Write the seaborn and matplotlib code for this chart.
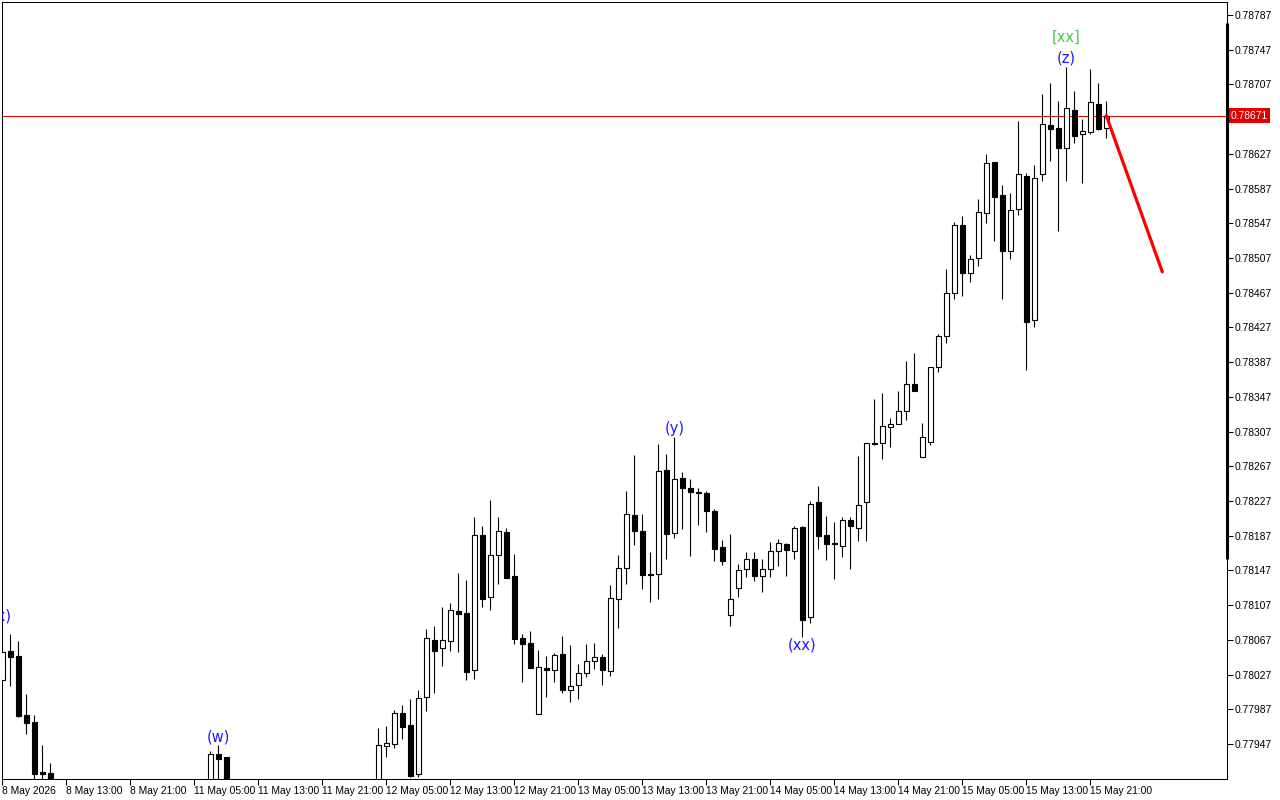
import numpy as np
import matplotlib
matplotlib.use("Agg")
import matplotlib.pyplot as plt
import matplotlib.transforms as mtransforms
import seaborn as sns

# ---------------- data (H1 candles, index 0 = 8 May 05:00) ----------------
opens = ([0.78021, 0.78054, 0.78048, 0.77980, 0.77972, 0.77915, 0.77914]
         + [None] * 19
         + [0.77895, 0.77935, 0.77932]
         + [None] * 18
         + [0.77900, 0.77945, 0.77947, 0.77983, 0.77969, 0.77912, 0.78001, 0.78067, 0.78058, 0.78066,
            0.78100, 0.78098, 0.78032, 0.78188, 0.78116, 0.78165, 0.78191, 0.78141, 0.78069, 0.78063,
            0.77982, 0.78035, 0.78032, 0.78051, 0.78009, 0.78015, 0.78029, 0.78043, 0.78047, 0.78031,
            0.78114, 0.78150, 0.78211, 0.78192, 0.78143, 0.78143, 0.78263, 0.78190, 0.78254, 0.78242,
            0.78237, 0.78236, 0.78215, 0.78174, 0.78096, 0.78127, 0.78149, 0.78160, 0.78141, 0.78149,
            0.78169, 0.78177, 0.78169, 0.78197, 0.78093, 0.78226, 0.78188, 0.78179, 0.78175, 0.78205,
            0.78196, 0.78226, 0.78293, 0.78294, 0.78312, 0.78316, 0.78331, 0.78362, 0.78278, 0.78295,
            0.78381, 0.78417, 0.78467, 0.78545, 0.78490, 0.78507, 0.78559, 0.78618, 0.78580, 0.78515,
            0.78564, 0.78602, 0.78435, 0.78604, 0.78660, 0.78657, 0.78634, 0.78678, 0.78650, 0.78652,
            0.78684, 0.78657])
highs = ([0.78054, 0.78074, 0.78066, 0.78005, 0.77980, 0.77946, 0.77925]
         + [None] * 19
         + [0.77939, 0.77946, 0.77932]
         + [None] * 18
         + [0.77965, 0.77968, 0.77986, 0.77992, 0.77999, 0.78009, 0.78080, 0.78083, 0.78105, 0.78109,
            0.78144, 0.78136, 0.78209, 0.78198, 0.78228, 0.78209, 0.78196, 0.78166, 0.78074, 0.78077,
            0.78055, 0.78048, 0.78052, 0.78071, 0.78061, 0.78039, 0.78062, 0.78063, 0.78051, 0.78130,
            0.78165, 0.78239, 0.78280, 0.78212, 0.78168, 0.78293, 0.78281, 0.78301, 0.78260, 0.78252,
            0.78242, 0.78238, 0.78218, 0.78182, 0.78189, 0.78154, 0.78168, 0.78168, 0.78160, 0.78180,
            0.78183, 0.78179, 0.78198, 0.78198, 0.78227, 0.78244, 0.78210, 0.78203, 0.78209, 0.78209,
            0.78279, 0.78294, 0.78345, 0.78351, 0.78323, 0.78354, 0.78388, 0.78398, 0.78317, 0.78381,
            0.78419, 0.78494, 0.78549, 0.78555, 0.78510, 0.78575, 0.78627, 0.78618, 0.78591, 0.78582,
            0.78665, 0.78605, 0.78614, 0.78696, 0.78709, 0.78688, 0.78727, 0.78699, 0.78667, 0.78725,
            0.78709, 0.78688])
lows = ([0.78020, 0.78014, 0.77978, 0.77959, 0.77895, 0.77890, 0.77880]
        + [None] * 19
        + [0.77890, 0.77900, 0.77890]
        + [None] * 18
        + [0.77895, 0.77932, 0.77942, 0.77953, 0.77909, 0.77909, 0.77985, 0.78006, 0.78037, 0.78054,
           0.78053, 0.78021, 0.78022, 0.78105, 0.78101, 0.78131, 0.78138, 0.78062, 0.78018, 0.78035,
           0.77982, 0.78001, 0.78018, 0.78006, 0.77995, 0.77999, 0.78024, 0.78033, 0.78015, 0.78025,
           0.78081, 0.78131, 0.78176, 0.78126, 0.78111, 0.78114, 0.78160, 0.78184, 0.78195, 0.78164,
           0.78199, 0.78191, 0.78158, 0.78153, 0.78083, 0.78116, 0.78139, 0.78135, 0.78122, 0.78139,
           0.78152, 0.78141, 0.78160, 0.78070, 0.78086, 0.78172, 0.78159, 0.78137, 0.78162, 0.78149,
           0.78181, 0.78181, 0.78291, 0.78275, 0.78289, 0.78316, 0.78320, 0.78354, 0.78278, 0.78291,
           0.78376, 0.78409, 0.78460, 0.78463, 0.78479, 0.78498, 0.78547, 0.78527, 0.78460, 0.78506,
           0.78557, 0.78378, 0.78428, 0.78596, 0.78619, 0.78538, 0.78596, 0.78640, 0.78593, 0.78650,
           0.78655, 0.78645])
closes = ([0.78053, 0.78047, 0.77979, 0.77971, 0.77912, 0.77912, 0.77885]
          + [None] * 19
          + [0.77935, 0.77930, 0.77895]
          + [None] * 18
          + [0.77946, 0.77948, 0.77983, 0.77967, 0.77910, 0.78000, 0.78069, 0.78054, 0.78067, 0.78101,
             0.78097, 0.78030, 0.78188, 0.78114, 0.78165, 0.78192, 0.78138, 0.78068, 0.78062, 0.78035,
             0.78036, 0.78032, 0.78050, 0.78009, 0.78014, 0.78029, 0.78043, 0.78047, 0.78032, 0.78115,
             0.78150, 0.78212, 0.78192, 0.78142, 0.78142, 0.78262, 0.78189, 0.78252, 0.78242, 0.78237,
             0.78236, 0.78215, 0.78172, 0.78158, 0.78114, 0.78148, 0.78160, 0.78141, 0.78149, 0.78169,
             0.78179, 0.78171, 0.78196, 0.78090, 0.78224, 0.78187, 0.78177, 0.78177, 0.78205, 0.78198,
             0.78222, 0.78294, 0.78294, 0.78313, 0.78316, 0.78331, 0.78362, 0.78354, 0.78301, 0.78381,
             0.78417, 0.78467, 0.78545, 0.78490, 0.78506, 0.78560, 0.78616, 0.78577, 0.78515, 0.78562,
             0.78604, 0.78433, 0.78599, 0.78661, 0.78656, 0.78634, 0.78680, 0.78648, 0.78653, 0.78687,
             0.78656, 0.78671])

xtick_pos = [0, 8, 16, 24, 32, 40, 48, 56, 64, 72, 80, 88, 96, 104, 112, 120, 128, 136]
xtick_labels = ["8 May 2026", "8 May 13:00", "8 May 21:00", "11 May 05:00", "11 May 13:00",
                "11 May 21:00", "12 May 05:00", "12 May 13:00", "12 May 21:00", "13 May 05:00",
                "13 May 13:00", "13 May 21:00", "14 May 05:00", "14 May 13:00", "14 May 21:00",
                "15 May 05:00", "15 May 13:00", "15 May 21:00"]
ytick_vals = [0.78787, 0.78747, 0.78707, 0.78667, 0.78627, 0.78587, 0.78547, 0.78507,
              0.78467, 0.78427, 0.78387, 0.78347, 0.78307, 0.78267, 0.78227, 0.78187,
              0.78147, 0.78107, 0.78067, 0.78027, 0.77987, 0.77947]

current_price = 0.78671
trend_x = [138, 145]
trend_y = [0.78671, 0.78491]

wave_text = ["(x)", "(w)", "(y)", "(xx)", "(z)", "[xx]"]
wave_x = [-0.08, 27, 84, 100, 133, 133]
wave_y = [0.78095, 0.77955, 0.78311, 0.78061, 0.78738, 0.78761]
wave_color = ["#1a1aff", "#1a1aff", "#1a1aff", "#1a1aff", "#1a1aff", "#44cc44"]

# ---------------- drawing ----------------
sns.set_theme(style="white")
plt.rcParams['font.family'] = ['DejaVu Sans']
AXFONT = "Liberation Sans"
AXSIZE = 7.4

W, H = 1280, 800
fig = plt.figure(figsize=(W / 100, H / 100), dpi=100)
fig.patch.set_facecolor("white")
ax = fig.add_axes([2 / W, 21 / H, 1225 / W, 777 / H])
ax.set_facecolor("white")

o = np.array(opens, dtype=float)
h = np.array(highs, dtype=float)
l = np.array(lows, dtype=float)
c = np.array(closes, dtype=float)
x = np.arange(len(o))
valid = ~np.isnan(o)
up = valid & (c >= o)
dn = valid & (c < o)

ax.axhline(current_price, color="#ff0000", lw=0.75, zorder=1)

ax.vlines(x[valid], l[valid], h[valid], color="black", lw=0.8, zorder=2)
bw = 0.62
ax.bar(x[up], (c - o)[up], bottom=o[up], width=bw, facecolor="white",
       edgecolor="black", linewidth=0.8, zorder=3)
ax.bar(x[dn], (o - c)[dn], bottom=c[dn], width=bw, facecolor="black",
       edgecolor="black", linewidth=0.8, zorder=3)

sns.lineplot(x=trend_x, y=trend_y, ax=ax, color="#ff0000", lw=2.3, zorder=4)

for t, xx, yy, col in zip(wave_text, wave_x, wave_y, wave_color):
    ax.text(xx, yy, t, color=col, fontsize=10.5, ha="center", va="center",
            zorder=5, clip_on=True)

x_lo = (2 - 2.3) / 8
x_hi = (1227 - 2.3) / 8
ax.set_xlim(x_lo, x_hi)
ax.set_ylim(0.779066, 0.788020)

ax.set_xticks(xtick_pos)
ax.set_xticklabels(xtick_labels, fontfamily=AXFONT)
for lab in ax.get_xticklabels():
    lab.set_ha("left")
ax.yaxis.tick_right()
ax.set_yticks(ytick_vals)
# the label under the current-price box is hidden by that box in the original
ax.set_yticklabels(["" if abs(v - current_price) < 0.0001 else f"{v:.5f}" for v in ytick_vals],
                   fontfamily=AXFONT)
ax.tick_params(axis="x", direction="out", length=4, width=0.75, pad=1.0,
               labelsize=AXSIZE, colors="black", bottom=True)
ax.tick_params(axis="y", direction="out", length=4, width=0.75, pad=1.5,
               labelsize=AXSIZE, colors="black", right=True, left=False)
for s in ax.spines.values():
    s.set_visible(True)
    s.set_color("black")
    s.set_linewidth(0.75)
ax.grid(False)

# thick scale bar on the right edge
ax.plot([1, 1], [(779 - 559) / 777, (779 - 23) / 777], transform=ax.transAxes,
        color="black", lw=2.2, solid_capstyle="butt", clip_on=False, zorder=6)

# current price label
trans = mtransforms.blended_transform_factory(ax.transAxes, ax.transData)
ax.text(1.0 + 4 / 1225, current_price, f"{current_price:.5f}", transform=trans,
        ha="left", va="center", fontsize=AXSIZE, fontfamily=AXFONT, color="white",
        zorder=10, clip_on=False,
        bbox=dict(boxstyle="square,pad=0.22", facecolor="#e00000", edgecolor="none"))

fig.savefig("out.png", dpi=100, facecolor="white")
